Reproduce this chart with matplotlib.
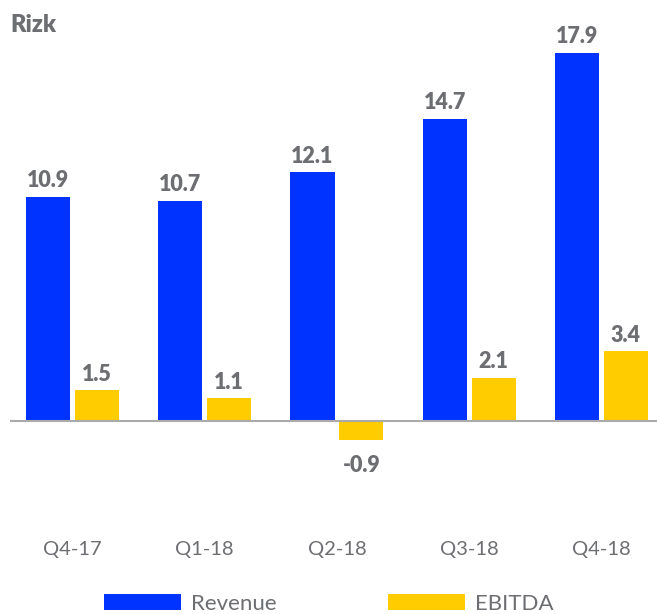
import matplotlib.pyplot as plt
import numpy as np

# Data
quarters = ['Q4-17', 'Q1-18', 'Q2-18', 'Q3-18', 'Q4-18']
revenue = [10.9, 10.7, 12.1, 14.7, 17.9]
ebitda = [1.5, 1.1, -0.9, 2.1, 3.4]

blue = '#0033ff'
yellow = '#ffcc00'
grey = '#6d6e71'

plt.rcParams['font.family'] = ['Lato', 'DejaVu Sans']

W, H = 657, 614
fig = plt.figure(figsize=(W / 100, H / 100), dpi=100)

# axes placed in pixels: left 10, right 657, top 20, bottom 530
px_per_unit = 20.56
zero_px = 421
top_px, bot_px = 20, 530
ax = fig.add_axes([10 / W, (H - bot_px) / H, 647 / W, (bot_px - top_px) / H])

x = np.arange(len(quarters))
width = 0.333
off = 0.185
b1 = ax.bar(x - off, revenue, width, color=blue, label='Revenue', zorder=2)
b2 = ax.bar(x + off, ebitda, width, color=yellow, label='EBITDA', zorder=2)
ax.axhline(0, color='#aaaaaa', linewidth=1.5, zorder=3)

for bars, vals in [(b1, revenue), (b2, ebitda)]:
    for rect, v in zip(bars, vals):
        cx = rect.get_x() + rect.get_width() / 2
        if v >= 0:
            ax.annotate(f'{v:.1f}', (cx, v), xytext=(0, 4), textcoords='offset points',
                        ha='center', va='bottom', fontsize=15.5, fontweight='heavy', color=grey)
        else:
            ax.annotate(f'{v:.1f}', (cx, v), xytext=(0, -11), textcoords='offset points',
                        ha='center', va='top', fontsize=15.5, fontweight='heavy', color=grey)

ax.set_xlim(-0.4726, 4.42)
ax.set_ylim(-(bot_px - zero_px) / px_per_unit, (zero_px - top_px) / px_per_unit)
ax.set_xticks(x)
ax.set_xticklabels(quarters, fontsize=14.5, color=grey)
ax.tick_params(axis='x', length=0, pad=8)
ax.set_yticks([])
for s in ax.spines.values():
    s.set_visible(False)

fig.text(10 / W, (H - 25) / H, 'Rizk', fontsize=17, fontweight='heavy', color=grey,
         ha='left', va='center')

fig.legend(handles=[b1, b2], loc='center left', bbox_to_anchor=(104 / W, (H - 604) / H),
           ncol=2, frameon=False, fontsize=16, labelcolor=grey, borderpad=0,
           borderaxespad=0, handlelength=3.47, handleheight=0.72, handletextpad=0.45,
           columnspacing=5.0)

fig.savefig('out.png', dpi=100)
